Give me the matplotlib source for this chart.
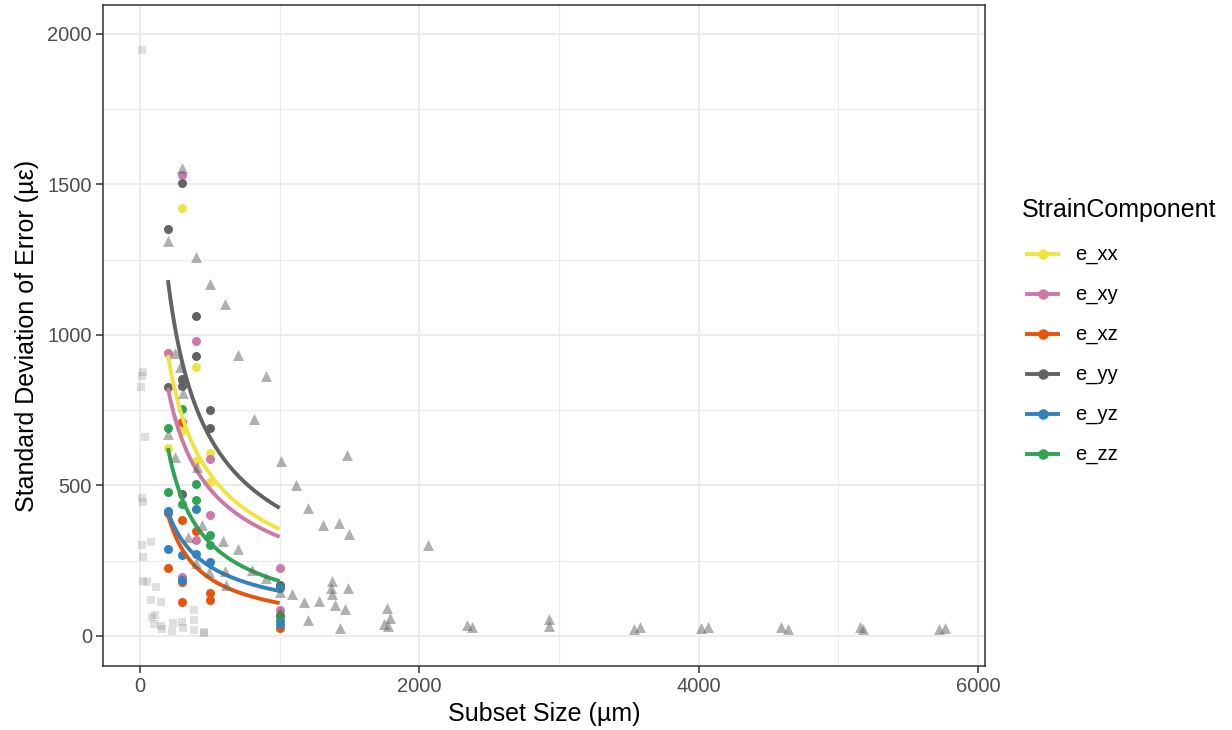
import numpy as np
import matplotlib
matplotlib.use("Agg")
import matplotlib.pyplot as plt
from matplotlib.lines import Line2D

plt.rcParams['font.family'] = ['Liberation Sans', 'DejaVu Sans']

# ---------------- data ----------------
components = ["e_xx", "e_xy", "e_xz", "e_yy", "e_yz", "e_zz"]
colors = ["#F0E442", "#CC79A7", "#E6550D", "#636363", "#3182BD", "#31A354"]

exx_x = [200, 200, 300, 300, 400, 400, 500, 500, 1000]
exx_y = [940, 624, 1421, 680, 893, 580, 607, 510, 162]
exy_x = [200, 300, 300, 300, 400, 400, 500, 500, 1000, 1000]
exy_y = [940, 1530, 850, 196, 980, 319, 588, 400, 226, 86]
exz_x = [200, 200, 300, 300, 300, 300, 400, 500, 500, 1000]
exz_y = [408, 226, 710, 385, 180, 113, 349, 143, 120, 27]
eyy_x = [200, 200, 300, 300, 300, 300, 400, 400, 500, 500, 1000]
eyy_y = [1351, 826, 1504, 853, 830, 471, 1062, 929, 750, 690, 169]
eyz_x = [200, 200, 300, 300, 400, 400, 500, 1000, 1000, 1000]
eyz_y = [416, 289, 269, 186, 422, 272, 246, 160, 53, 40]
ezz_x = [200, 200, 300, 300, 400, 400, 500, 500, 1000]
ezz_y = [690, 478, 754, 438, 505, 452, 335, 302, 70]

# power-law trend (value at 200 um and at 1000 um)
trend_x_range = [200, 1000]
trend_at_200 = [933, 823, 402, 1182, 412, 624]
trend_at_1000 = [355, 329, 109, 425, 149, 182]

# other study (triangles)
tri_x = [300, 200, 400, 500, 608, 250, 705, 905, 286, 306, 816, 200, 250, 408,
         1009, 1482, 1117, 1200, 1310, 1424, 1496, 444, 594, 701, 344, 400, 494,
         605, 616, 805, 902, 1000, 1088, 1174, 1281, 1202, 1000, 1374, 1367, 1374,
         1489, 1396, 1467, 1432, 1768, 1790, 1747, 1775, 2062, 2340, 2376, 2928,
         2928, 3536, 3579, 4016, 4066, 4588, 4638, 5154, 5175, 5719, 5762]
tri_y = [1555, 1311, 1258, 1169, 1102, 940, 932, 864, 893, 807, 720, 671, 594, 561,
         582, 601, 500, 425, 369, 375, 339, 369, 315, 289, 329, 242, 212,
         214, 169, 218, 193, 147, 139, 112, 116, 53, 78, 183, 159, 139,
         159, 101, 90, 27, 93, 60, 40, 33, 302, 37, 30, 56,
         33, 23, 30, 27, 30, 30, 23, 30, 23, 23, 27]

# another study (squares)
sq_x = [14, 21, 14, 7, 36, 14, 21, 14, 79, 21, 21, 50, 115, 79, 150, 387, 86, 110,
        236, 308, 387, 387, 458, 157, 229, 150, 100, 300, 460]
sq_y = [1945, 876, 863, 827, 661, 458, 445, 302, 312, 262, 183, 180, 163, 120, 113,
        86, 63, 68, 43, 27, 53, 20, 13, 23, 17, 33, 40, 45, 10]

xs_all = [exx_x, exy_x, exz_x, eyy_x, eyz_x, ezz_x]
ys_all = [exx_y, exy_y, exz_y, eyy_y, eyz_y, ezz_y]

# ---------------- figure ----------------
W, H = 1232, 730
fig = plt.figure(figsize=(W / 100, H / 100), dpi=100)
L, R, T, B = 103, 985, 5, 666
ax = fig.add_axes([L / W, 1 - B / H, (R - L) / W, (B - T) / H])

ax.set_xlim(-265, 6050)
ax.set_ylim(-100, 2096)

ax.set_xticks([0, 2000, 4000, 6000])
ax.set_xticks([1000, 3000, 5000], minor=True)
ax.set_yticks([0, 500, 1000, 1500, 2000])
ax.set_yticks([250, 750, 1250, 1750], minor=True)
ax.grid(which='major', color='#EBEBEB', linewidth=1.5)
ax.grid(which='minor', color='#EBEBEB', linewidth=0.8)
ax.set_axisbelow(True)
ax.tick_params(which='minor', length=0)
ax.tick_params(which='major', length=5, width=1.1, color='#333333',
               labelsize=14.5, labelcolor='#4D4D4D', pad=3)
for s in ax.spines.values():
    s.set_color('#333333')
    s.set_linewidth(1.1)

# squares
ax.scatter(sq_x, sq_y, marker='s', s=38, color='#636363', alpha=0.2,
           linewidths=0, zorder=2)

# colored points
for xs, ys, c in zip(xs_all, ys_all, colors):
    ax.scatter(xs, ys, s=42, color=c, linewidths=0, zorder=3)

# trend curves
for a200, a1000, c in zip(trend_at_200, trend_at_1000, colors):
    b = np.log(a1000 / a200) / np.log(trend_x_range[1] / trend_x_range[0])
    xx = np.linspace(trend_x_range[0], trend_x_range[1], 200)
    yy = a200 * (xx / trend_x_range[0]) ** b
    ax.plot(xx, yy, color=c, linewidth=2.8, zorder=4, solid_capstyle='butt')

# triangles
ax.scatter(tri_x, tri_y, marker='^', s=62, color='#636363', alpha=0.5,
           linewidths=0, zorder=5)

ax.set_xlabel("Subset Size (µm)", fontsize=18, color='black', labelpad=4)
ax.set_ylabel("Standard Deviation of Error (µε)", fontsize=18, color='black', labelpad=6)

# ---------------- legend (manual) ----------------
fig.text(1022 / W, 1 - 210 / H, "StrainComponent", fontsize=18, ha='left',
         va='center', color='black')
for i, (name, c) in enumerate(zip(components, colors)):
    yc = 1 - (254 + 40 * i) / H
    fig.add_artist(Line2D([1027 / W, 1058 / W], [yc, yc], transform=fig.transFigure,
                          color=c, linewidth=2.8))
    fig.add_artist(Line2D([1042.5 / W], [yc], transform=fig.transFigure,
                          color=c, marker='o', markersize=6.5, linewidth=0))
    fig.text(1075 / W, yc, name, fontsize=14.5, ha='left', va='center', color='black')

fig.savefig("out.png", dpi=100)
